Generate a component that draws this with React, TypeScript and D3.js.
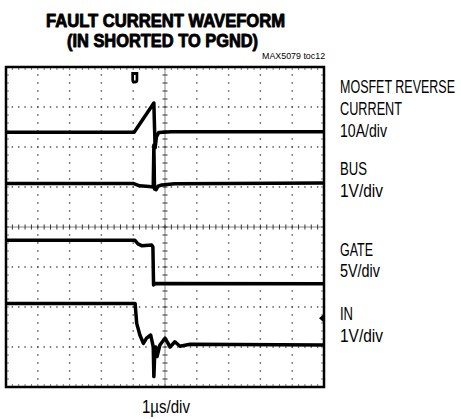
import React, { useLayoutEffect, useRef, useState } from 'react';
import * as d3 from 'd3';

const W = 461;
const H = 419;

// Scope screen: 10 horizontal divisions (1µs/div), 8 vertical divisions
const timeDomain: [number, number] = [-5, 5];
const divDomain: [number, number] = [-4, 4];

// Traces: [time in µs relative to centre, position in divisions from centre]
const currentTrace: [number, number][] = [
  [-5, 2.37], [-0.97, 2.37], [-0.35, 3.1], [-0.33, 2.5], [-0.31, 1.98],
  [-0.27, 2.25], [-0.2, 2.36], [0.2, 2.38], [5, 2.38],
];
const busTrace: [number, number][] = [
  [-5, 1.09], [-1.0, 1.09], [-0.8, 1.03], [-0.5, 1.01], [-0.37, 1.0],
  [-0.35, 2.05], [-0.33, 0.95], [-0.28, 0.93], [-0.22, 1.02], [-0.1, 1.05],
  [0.3, 1.08], [5, 1.1],
];
const gateTrace: [number, number][] = [
  [-5, -0.33], [-0.95, -0.33], [-0.85, -0.42], [-0.72, -0.47], [-0.42, -0.45],
  [-0.38, -0.5], [-0.36, -1.45], [-0.3, -1.41], [5, -1.42],
];
const inTrace: [number, number][] = [
  [-5, -1.91], [-0.94, -1.91], [-0.89, -2.41], [-0.79, -2.7], [-0.68, -2.91],
  [-0.58, -2.78], [-0.45, -2.7], [-0.37, -2.99], [-0.35, -3.74], [-0.32, -3.1],
  [-0.29, -3.0], [-0.25, -3.24], [-0.16, -2.95], [0, -2.78], [0.16, -3.0],
  [0.31, -2.87], [0.47, -2.98], [0.79, -2.93], [5, -2.95],
];

const traces = [currentTrace, busTrace, gateTrace, inTrace];

const titleLines = ['FAULT CURRENT WAVEFORM', '(IN SHORTED TO PGND)'];
const docTag = 'MAX5079 toc12';
const timeLabel = '1\u00B5s/div';
const channelLabels: string[][] = [
  ['MOSFET REVERSE', 'CURRENT', '10A/div'],
  ['BUS', '1V/div'],
  ['GATE', '5V/div'],
  ['IN', '1V/div'],
];

const triggerTime = -0.95;
const triggerLevel = -2.28;

const FONT = "'Liberation Sans Narrow', 'Liberation Sans', Arial, sans-serif";

type FitProps = { x: number; y: number; width: number; size: number; weight?: string; text: string; heavy?: boolean };
const FitText: React.FC<FitProps> = ({ x, y, width, size, weight, text, heavy }) => {
  const ref = useRef<SVGTextElement>(null);
  const [sx, setSx] = useState(0.8);
  useLayoutEffect(() => {
    if (ref.current) {
      const w = ref.current.getComputedTextLength();
      if (w > 0) setSx(width / w);
    }
  }, [width, text, size]);
  return (
    <text ref={ref} transform={`translate(${x},${y}) scale(${sx},1)`} fontFamily={FONT}
      fontSize={size} fontWeight={weight || 'normal'} fill="#000"
      stroke={heavy ? '#000' : 'none'} strokeWidth={heavy ? 0.9 : 0} strokeLinejoin="round">{text}</text>
  );
};

const App: React.FC = () => {
  const left = 6, right = 324, top = 67, bottom = 387;
  const x = d3.scaleLinear().domain(timeDomain).range([left, right]);
  const y = d3.scaleLinear().domain(divDomain).range([bottom, top]);
  const line = d3.line<[number, number]>().x(d => x(d[0])).y(d => y(d[1]));

  const majorX = d3.range(-4, 5).filter(v => v !== 0);
  const majorY = d3.range(-3, 4).filter(v => v !== 0);
  const minorX = d3.range(-5, 5.001, 0.2).map(v => +v.toFixed(2));
  const minorY = d3.range(-4, 4.001, 0.2).map(v => +v.toFixed(2));

  const dots: JSX.Element[] = [];
  majorY.forEach(gy => {
    minorX.forEach((mx, i) => {
      dots.push(<rect key={`h${gy}_${i}`} x={x(mx) - 0.7} y={y(gy) - 0.7} width={1.4} height={1.4} fill="#444" />);
    });
  });
  majorX.forEach(gx => {
    minorY.forEach((my, i) => {
      dots.push(<rect key={`v${gx}_${i}`} x={x(gx) - 0.7} y={y(my) - 0.7} width={1.4} height={1.4} fill="#444" />);
    });
  });

  const ticks: JSX.Element[] = [];
  minorY.forEach((my, i) => {
    ticks.push(<line key={`cy${i}`} x1={x(0) - 2.5} x2={x(0) + 2.5} y1={y(my)} y2={y(my)} stroke="#333" strokeWidth={1} />);
    ticks.push(<line key={`ly${i}`} x1={left} x2={left + 3} y1={y(my)} y2={y(my)} stroke="#555" strokeWidth={0.8} />);
    ticks.push(<line key={`ry${i}`} x1={right - 3} x2={right} y1={y(my)} y2={y(my)} stroke="#555" strokeWidth={0.8} />);
  });
  minorX.forEach((mx, i) => {
    ticks.push(<line key={`cx${i}`} x1={x(mx)} x2={x(mx)} y1={y(0) - 2.5} y2={y(0) + 2.5} stroke="#333" strokeWidth={1} />);
    ticks.push(<line key={`tx${i}`} x1={x(mx)} x2={x(mx)} y1={top} y2={top + 3} stroke="#555" strokeWidth={0.8} />);
    ticks.push(<line key={`bx${i}`} x1={x(mx)} x2={x(mx)} y1={bottom - 3} y2={bottom} stroke="#555" strokeWidth={0.8} />);
  });

  const labelLayout = [
    { baselines: [93, 115, 137], widths: [115, 62, 47] },
    { baselines: [175, 197], widths: [27, 43] },
    { baselines: [256, 277], widths: [33, 40] },
    { baselines: [320, 342], widths: [13, 43] },
  ];

  const tx = x(triggerTime);
  const ly = y(triggerLevel);

  return (
    <svg width={W} height={H} style={{ position: 'absolute', left: 0, top: 0, background: '#fff' }}>
      <FitText x={46} y={27} width={239} size={17.5} weight="bold" heavy text={titleLines[0]} />
      <FitText x={67} y={47} width={191} size={17.5} weight="bold" heavy text={titleLines[1]} />
      <FitText x={262} y={59} width={63} size={9} text={docTag} />

      <g>{dots}</g>
      <line x1={x(0)} x2={x(0)} y1={top} y2={bottom} stroke="#555" strokeWidth={0.7} />
      <line x1={left} x2={right} y1={y(0)} y2={y(0)} stroke="#555" strokeWidth={0.7} />
      <g>{ticks}</g>

      {traces.map((t, i) => (
        <path key={i} d={line(t) || ''} fill="none" stroke="#000" strokeWidth={3.5} strokeLinejoin="round" />
      ))}

      <path d={`M${tx - 3.5},${top + 5} h7 v8 a3.5,3.5 0 0 1 -7,0 z M${tx - 0.8},${top + 8} v5.5 h1.6 v-5.5 z`} fill="#000" fillRule="evenodd" />
      <path d={`M${right - 5},${ly} L${right - 1},${ly - 3.5} L${right - 1},${ly + 3.5} z`} fill="#000" />

      <rect x={left} y={top} width={right - left} height={bottom - top} fill="none" stroke="#000" strokeWidth={2.5} />

      {channelLabels.map((lines, i) =>
        lines.map((s, j) => (
          <FitText key={`${i}_${j}`} x={340} y={labelLayout[i].baselines[j]} width={labelLayout[i].widths[j]} size={18} text={s} />
        ))
      )}

      <FitText x={142} y={413} width={48} size={18} text={timeLabel} />
    </svg>
  );
};

export default App;
